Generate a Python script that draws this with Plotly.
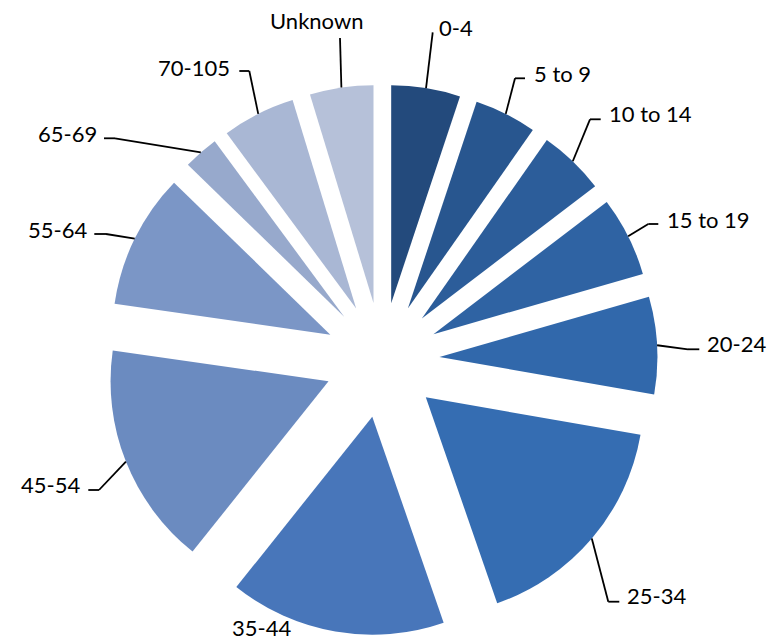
import math
import plotly.graph_objects as go

# age groups, share of cases (%)
labels = ['0-4', '5 to 9', '10 to 14', '15 to 19', '20-24', '25-34',
          '35-44', '45-54', '55-64', '65-69', '70-105', 'Unknown']
values = [5.1, 4.6, 4.9, 5.9, 7.2, 16.9, 16.0, 16.5, 10.0, 2.6, 5.4, 4.7]

colors = ['#234a7c', '#28568f', '#2c5d9a', '#2f63a3', '#3168ab', '#356db2',
          '#4876ba', '#6b8bc0', '#7b96c6', '#97a9cc', '#a9b7d4', '#b6c1d9']

W, H = 777, 638
CX, CY, SIZE = 382, 360, 551   # pie centre and box size in px
PULL = 0.264

# label placement (px): anchor side, x edge, y of text middle, elbow points of the leader
label_pos = {
    '0-4':      ('left', 436.7, 25.5, [(432.7, 32.3)]),
    '5 to 9':   ('left', 531.7, 72, [(515, 78.3), (525, 78.3)]),
    '10 to 14': ('left', 606.7, 112.5, [(590, 119.3), (600.7, 119.3)]),
    '15 to 19': ('left', 665, 217.5, [(648.3, 224), (658.3, 224)]),
    '20-24':    ('left', 705, 342, [(688, 349.3), (699.3, 349.3)]),
    '25-34':    ('left', 625, 593.5, [(608.3, 601.7), (619.3, 601.7)]),
    '35-44':    ('left', 230, 625.5, []),
    '45-54':    ('right', 81.7, 482.5, [(99, 490), (88.3, 490)]),
    '55-64':    ('right', 89.3, 227.5, [(106, 234), (94.3, 234)]),
    '65-69':    ('right', 99, 132, [(115, 138.3), (104, 138.3)]),
    '70-105':   ('right', 231.7, 66, [(249.3, 71), (239.3, 71)]),
    'Unknown':  ('center', 316.5, 19, [(340, 38)]),
}


def px(x):
    return x / W


def py(y):
    return 1 - y / H


dom_x = [(CX - SIZE / 2) / W, (CX + SIZE / 2) / W]
dom_y = [1 - (CY + SIZE / 2) / H, 1 - (CY - SIZE / 2) / H]

fig = go.Figure(go.Pie(
    labels=labels,
    values=values,
    sort=False,
    direction='clockwise',
    rotation=0,
    pull=[PULL] * len(values),
    marker=dict(colors=colors, line=dict(width=0)),
    textinfo='none',
    hoverinfo='label+percent',
    domain=dict(x=dom_x, y=dom_y),
))

# same geometry plotly uses, to find where each leader touches its slice
r = SIZE / (2 + 2 * PULL)
total = sum(values)
cum = 0
shapes = []
annotations = []
for lab, val in zip(labels, values):
    mid = (cum + val / 2) / total * 2 * math.pi
    cum += val
    sx, sy = math.sin(mid), -math.cos(mid)
    ax = CX + (PULL * r + r) * sx
    ay = CY + (PULL * r + r) * sy
    side, tx, ty, pts = label_pos[lab]
    prev = (ax, ay)
    for p in pts:
        shapes.append(dict(type='line', xref='paper', yref='paper',
                           x0=px(prev[0]), y0=py(prev[1]), x1=px(p[0]), y1=py(p[1]),
                           line=dict(color='black', width=1.8)))
        prev = p
    annotations.append(dict(text=lab, x=px(tx), y=py(ty + 1.5), xref='paper', yref='paper',
                            xanchor=side, yanchor='middle', showarrow=False,
                            font=dict(family='Lato', size=22, color='black')))

fig.update_layout(
    width=W, height=H,
    margin=dict(l=0, r=0, t=0, b=0),
    paper_bgcolor='white',
    plot_bgcolor='white',
    showlegend=False,
    shapes=shapes,
    annotations=annotations,
)

# page has a default 8px body margin; drop it so the figure sits at 0,0
fig.write_html("out.html", config={'displayModeBar': False},
               post_script="document.body.style.margin='0px';")
